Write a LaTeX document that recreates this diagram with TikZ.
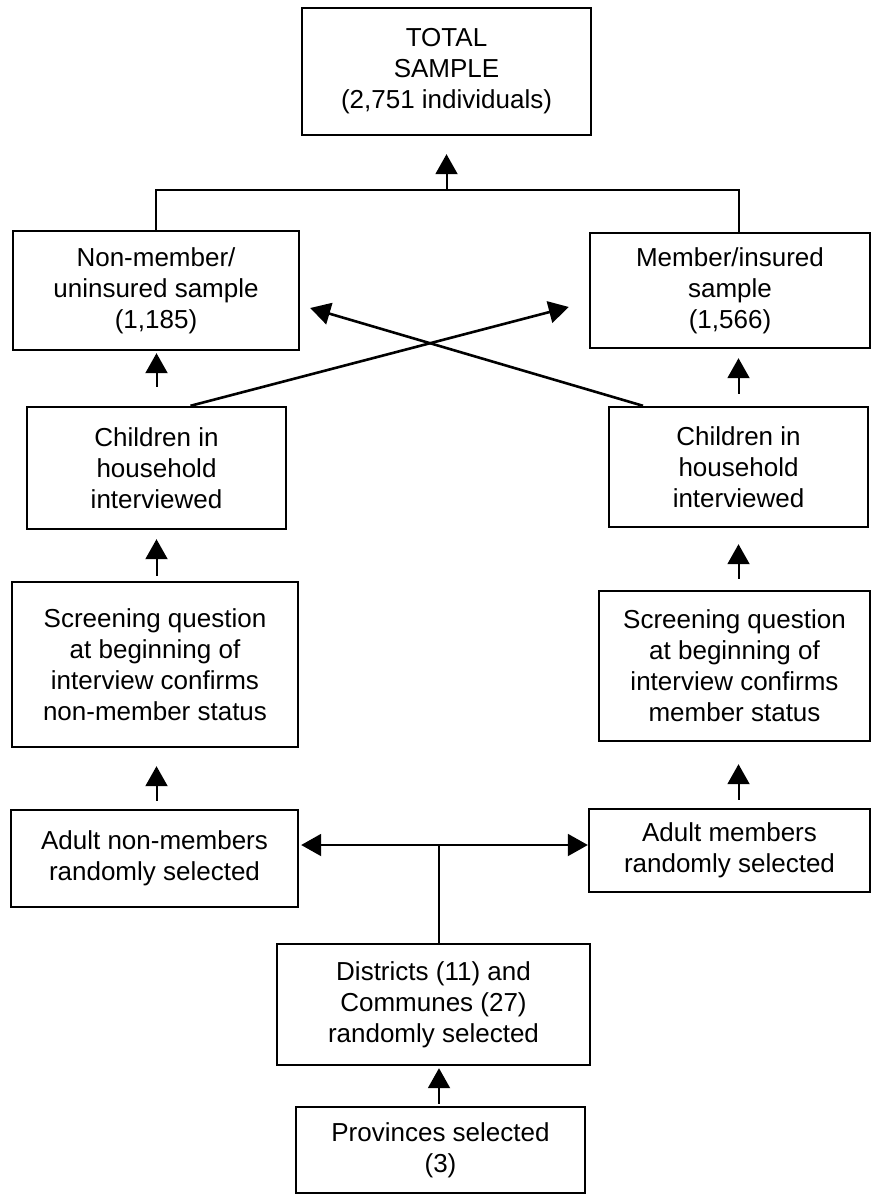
\documentclass[tikz,border=0pt]{standalone}
\usepackage{fontspec}
\setmainfont{Liberation Sans}
\usepackage{tikz}
\usetikzlibrary{arrows.meta,calc}

\begin{document}
\begin{tikzpicture}[x=0.5pt, y=-0.5pt,
  every node/.style={font=\fontsize{13}{15.5}\selectfont},
  box/.style={draw, line width=1.2pt, align=center, inner sep=0pt},
  arr/.style={-{Triangle[length=10pt,width=11pt]}, line width=1pt},
  link/.style={line width=1pt}]
  \useasboundingbox (0,0) rectangle (872,1197);
  % totals
  \node[box, minimum width=144.5pt, minimum height=63.5pt] (total) at (446.5,71.5)
    {TOTAL\\ SAMPLE\\ (2,751 individuals)};
  \node[box, minimum width=143pt, minimum height=59.5pt] (nonmem) at (156,290.5)
    {Non-member/\\ uninsured sample\\ (1,185)};
  \node[box, minimum width=140pt, minimum height=57.5pt] (mem) at (730,290.5)
    {Member/insured\\ sample\\ (1,566)};
  % children
  \node[box, minimum width=129.5pt, minimum height=61pt] (childL) at (156.5,468)
    {Children in\\ household\\ interviewed};
  \node[box, minimum width=129.5pt, minimum height=60pt] (childR) at (738.5,467)
    {Children in\\ household\\ interviewed};
  % screening
  \node[box, minimum width=143pt, minimum height=82.5pt] (screenL) at (155,664.5)
    {Screening question\\ at beginning of\\ interview confirms\\ non-member status};
  \node[box, minimum width=135.5pt, minimum height=75pt] (screenR) at (734.5,666)
    {Screening question\\ at beginning of\\ interview confirms\\ member status};
  % adults
  \node[box, minimum width=143.5pt, minimum height=48.5pt] (adultL) at (154.5,858.5)
    {Adult non-members\\ randomly selected};
  \node[box, minimum width=140.5pt, minimum height=41.5pt] (adultR) at (729.5,850.5)
    {Adult members\\ randomly selected};
  % sampling frame
  \node[box, minimum width=156.5pt, minimum height=60.5pt] (dist) at (433.5,1004.5)
    {Districts (11) and\\ Communes (27)\\ randomly selected};
  \node[box, minimum width=144.5pt, minimum height=43pt] (prov) at (440.5,1150)
    {Provinces selected\\ (3)};

  \coordinate (join) at (446.5,190);
  \coordinate (split) at (439,845);

  % connectors
  \draw[link] (nonmem.north) |- (join) -| (mem.north -| childR.north);
  \draw[arr, shorten >=9pt] (join) -- (total.south);
  \draw[arr, shorten <=9.5pt, shorten >=1pt] (childL.north) -- (childL.north |- nonmem.south);
  \draw[arr, shorten <=6pt, shorten >=4.5pt] (childR.north) -- (childR.north |- mem.south);
  \draw[arr, line width=1.3pt] ([xshift=17pt]childL.north) -- ([xshift=-10pt,yshift=-8.25pt]mem.west);
  \draw[arr, line width=1.3pt] ([xshift=-47.75pt]childR.north) -- ([xshift=5pt,yshift=-8.75pt]nonmem.east);
  \draw[arr, shorten <=2.5pt, shorten >=4.5pt] (childL.south |- screenL.north) -- (childL.south);
  \draw[arr, shorten <=5.5pt, shorten >=8pt] (childR.south |- screenR.north) -- (childR.south);
  \draw[arr, shorten <=4pt, shorten >=9pt] (childL.south |- adultL.north) -- (childL.south |- screenL.south);
  \draw[arr, shorten <=4pt, shorten >=11pt] (childR.south |- adultR.north) -- (childR.south |- screenR.south);
  \draw[link] (dist.north -| split) -- (split);
  \draw[arr, shorten >=1pt] (split) -- (split -| adultL.east);
  \draw[arr] (split) -- (split -| adultR.west);
  \draw[arr, shorten <=1pt, shorten >=1pt] (prov.north -| split) -- (dist.south -| split);
\end{tikzpicture}
\end{document}
